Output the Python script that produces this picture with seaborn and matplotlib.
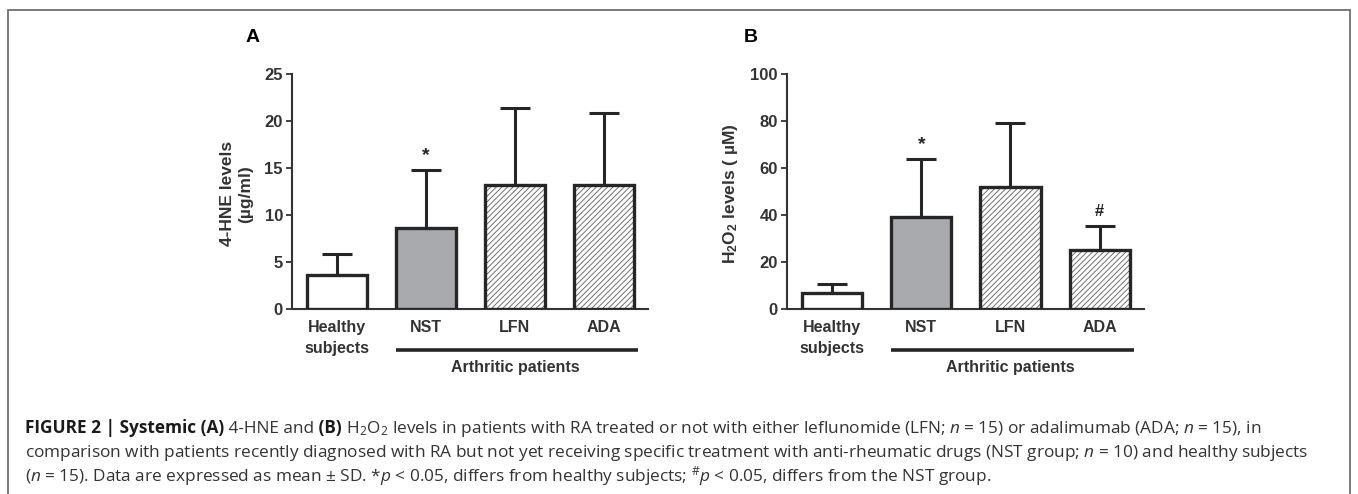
import numpy as np
import pandas as pd
import matplotlib
matplotlib.use("Agg")
import matplotlib.pyplot as plt
import seaborn as sns
from matplotlib.patches import Rectangle
from matplotlib.transforms import blended_transform_factory

# ---------------- data ----------------
groups = ["Healthy\nsubjects", "NST", "LFN", "ADA"]
hne_mean = [3.6, 8.6, 13.2, 13.2]
hne_sd = [2.3, 6.2, 8.2, 7.6]
h2o2_mean = [6.8, 39.2, 52.0, 25.0]
h2o2_sd = [4.0, 24.7, 27.1, 10.5]
hne_ticks = [0, 5, 10, 15, 20, 25]
h2o2_ticks = [0, 20, 40, 60, 80, 100]
sig_hne = ["", "*", "", ""]
sig_h2o2 = ["", "*", "", "#"]
group_label = "Arthritic patients"

# ---------------- style ----------------
sns.set_style("ticks")
plt.rcParams["font.family"] = ["Liberation Sans", "DejaVu Sans"]
plt.rcParams["mathtext.fontset"] = "custom"
plt.rcParams["mathtext.rm"] = "Open Sans"
plt.rcParams["mathtext.it"] = "Open Sans:italic"
plt.rcParams["mathtext.bf"] = "Liberation Sans:bold"
plt.rcParams["hatch.linewidth"] = 0.7

DARK = "#262626"
AXC = "#333333"
fills = ["#ffffff", "#a9aaad", "#ffffff", "#ffffff"]
hatched = [False, False, True, True]

W, H = 1358, 494
fig = plt.figure(figsize=(W / 100, H / 100), dpi=100)


def fx(px):
    return px / W


def fy(py):
    return 1 - py / H


axA = fig.add_axes([fx(292), fy(309), fx(648 - 292), (309 - 74) / H])
axB = fig.add_axes([fx(787), fy(309), fx(1144 - 787), (309 - 74) / H])


def panel(ax, means, sds, ticks, sig, ylabel, ylab_x):
    df = pd.DataFrame({"group": groups, "value": means})
    sns.barplot(data=df, x="group", y="value", hue="group", palette=fills,
                legend=False, width=0.675, errorbar=None, ax=ax,
                saturation=1, edgecolor=DARK, linewidth=2.4, zorder=3)
    for i, p in enumerate(ax.patches):
        if hatched[i]:
            p.set_hatch("//////")
            p.set_edgecolor("#707070")
            p.set_linewidth(0)
            ax.add_patch(Rectangle(p.get_xy(), p.get_width(), p.get_height(),
                                   facecolor="none", edgecolor=DARK,
                                   linewidth=2.4, zorder=4))
    x = np.arange(len(means))
    ax.errorbar(x, means, yerr=[np.zeros(len(sds)), sds], fmt="none",
                ecolor=DARK, elinewidth=2.2, capsize=10.5, capthick=2.2,
                zorder=2)
    for i, s in enumerate(sig):
        if s:
            ax.annotate(s, xy=(i, means[i] + sds[i]), xytext=(0, 14),
                        textcoords="offset pixels", ha="center", va="center",
                        fontsize=14 if s == "*" else 12, fontweight="bold",
                        color=DARK)
    ax.set_xlim(-0.506, len(means) - 1 + 0.497)
    ax.set_ylim(ticks[0], ticks[-1])
    ax.set_yticks(ticks)
    ax.set_yticklabels([str(t) for t in ticks], fontweight="bold",
                       fontsize=12, color=AXC)
    ax.set_xlabel("")
    ax.set_ylabel(ylabel, fontweight="bold", fontsize=12.5, color=AXC,
                  linespacing=1.2)
    ax.yaxis.set_label_coords(ylab_x, 0.49)
    for lab in ax.get_xticklabels():
        lab.set_fontweight("bold")
        lab.set_fontsize(11.5)
        lab.set_color(AXC)
        lab.set_linespacing(1.45)
    ax.tick_params(axis="x", length=0, pad=8)
    ax.tick_params(axis="y", length=4.5, width=1.3, color=AXC, pad=2)
    sns.despine(ax=ax)
    for sp in ("left", "bottom"):
        ax.spines[sp].set_color(AXC)
        ax.spines[sp].set_linewidth(1.5)
    tr = blended_transform_factory(ax.transData, ax.transAxes)
    ax.plot([0.665, 3.38], [-0.174, -0.174], transform=tr, clip_on=False,
            color=DARK, lw=2.6, solid_capstyle="butt")
    ax.text(2.0, -0.25, group_label, transform=tr, ha="center", va="center",
            fontsize=11.5, fontweight="bold", color=AXC)


panel(axA, hne_mean, hne_sd, hne_ticks, sig_hne, "4-HNE levels\n(µg/ml)", -0.11)
panel(axB, h2o2_mean, h2o2_sd, h2o2_ticks, sig_h2o2,
      r"$\mathbf{H_2O_2}$ levels ( µM)", -0.132)

fig.text(fx(253), fy(38), "A", ha="center", va="center", fontsize=14,
         fontweight="bold", color="black")
fig.text(fx(751), fy(38), "B", ha="center", va="center", fontsize=14,
         fontweight="bold", color="black")

# frame
fig.add_artist(Rectangle((fx(8), -0.05), fx(1350 - 8), fy(10) + 0.05,
                         transform=fig.transFigure, fill=False,
                         edgecolor="#707070", lw=1.3))

# caption
renderer = fig.canvas.get_renderer()
CAPC = "#333333"
CAPFONT = ["Open Sans", "DejaVu Sans"]

line1 = [("FIGURE 2 | Systemic (A)", True), (" 4-HNE and", False), (" (B)", True),
         (" H$_2$O$_2$ levels in patients with RA treated or not with either leflunomide "
          "(LFN; $n$ = 15) or adalimumab (ADA; $n$ = 15), in", False)]
line2 = [("comparison with patients recently diagnosed with RA but not yet receiving "
          "specific treatment with anti-rheumatic drugs (NST group; $n$ = 10) and healthy subjects", False)]
line3 = [("($n$ = 15). Data are expressed as mean ± SD. *$p$ < 0.05, differs from healthy "
          "subjects; $^{\\#}p$ < 0.05, differs from the NST group.", False)]

# fit caption size so that line 2 spans the same width as in the reference
probe = fig.text(0, 0, line2[0][0], fontsize=10, family=CAPFONT)
pw = probe.get_window_extent(renderer).width
probe.remove()
CAPSIZE = 10 * (1305 - 25) / pw


def rich_line(pieces, x0, ybase, size):
    x = x0
    for txt, bold in pieces:
        t = fig.text(fx(x), fy(ybase), txt, fontsize=size, family=CAPFONT,
                     fontweight="bold" if bold else "normal",
                     va="baseline", ha="left",
                     color="#1a1a1a" if bold else CAPC)
        bb = t.get_window_extent(renderer)
        x += bb.width


rich_line(line1, 25, 433, CAPSIZE)
rich_line(line2, 25, 457, CAPSIZE)
rich_line(line3, 25, 481, CAPSIZE)

fig.savefig("out.png", dpi=100)
